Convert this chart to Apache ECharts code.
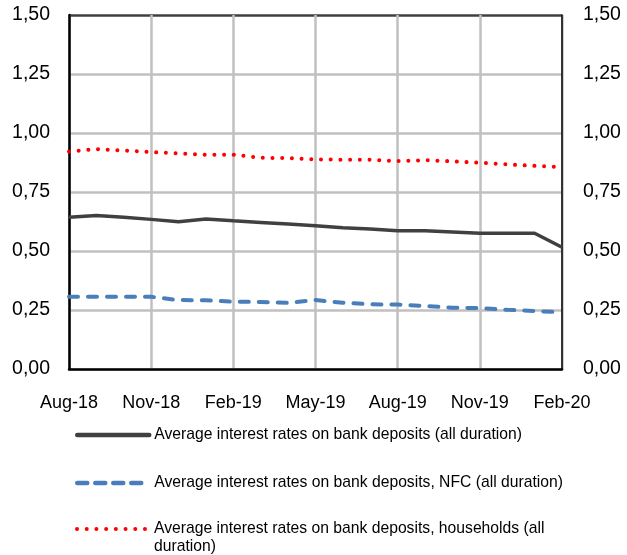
<!DOCTYPE html>
<html>
<head>
<meta charset="utf-8">
<script src="https://cdn.jsdelivr.net/npm/echarts@6/dist/echarts.min.js"></script>
<style>
html,body{margin:0;padding:0;background:#fff;}
#chart{width:627px;height:555px;}
</style>
</head>
<body>
<div id="chart"></div>
<script>
const months = ["Aug-18","Sep-18","Oct-18","Nov-18","Dec-18","Jan-19","Feb-19","Mar-19","Apr-19","May-19","Jun-19","Jul-19","Aug-19","Sep-19","Oct-19","Nov-19","Dec-19","Jan-20","Feb-20"];
const allDeposits = [0.643,0.650,0.643,0.634,0.624,0.636,0.628,0.621,0.614,0.607,0.599,0.593,0.586,0.586,0.581,0.575,0.575,0.575,0.516];
const nfcDeposits = [0.306,0.306,0.306,0.306,0.292,0.291,0.285,0.284,0.280,0.292,0.281,0.274,0.273,0.267,0.260,0.258,0.251,0.246,0.240];
const householdDeposits = [0.921,0.932,0.926,0.919,0.914,0.908,0.908,0.895,0.894,0.888,0.887,0.887,0.881,0.885,0.880,0.874,0.867,0.861,0.856];
const seriesNames = [
  "Average interest rates on bank deposits (all duration)",
  "Average interest rates on bank deposits, NFC (all duration)",
  "Average interest rates on bank deposits, households (all duration)"
];
const yTicks = [0, 0.25, 0.5, 0.75, 1.0, 1.25, 1.5];

const font = "Liberation Sans, Arial, sans-serif";
const fmt = v => v.toFixed(2).replace('.', ',');
const legendText = {fontFamily: font, fontSize: 15.7, color: '#000', lineHeight: 18};
const legendCommon = {
  orient: 'vertical', left: 75, padding: 0,
  itemWidth: 72, itemHeight: 4, itemGap: 30,
  textStyle: legendText,
  itemStyle: {color: 'transparent', borderWidth: 0, opacity: 0},
  selectedMode: false
};

const chart = echarts.init(document.getElementById('chart'), null, {renderer: 'canvas'});
chart.setOption({
  animation: false,
  backgroundColor: '#fff',
  grid: {left: 69, right: 65, top: 15, bottom: 186, containLabel: false},
  xAxis: {
    type: 'category',
    data: months,
    boundaryGap: false,
    axisLine: {show: true, lineStyle: {color: '#000', width: 2.5}},
    axisTick: {show: false},
    axisLabel: {interval: 2, color: '#000', fontFamily: font, fontSize: 18, margin: 25},
    splitLine: {show: true, interval: 2, lineStyle: {color: '#C0C0C0', width: 2.5}}
  },
  yAxis: [
    {
      type: 'value', min: yTicks[0], max: yTicks[yTicks.length-1], interval: 0.25, position: 'left',
      axisLine: {show: true, lineStyle: {color: '#000', width: 2.5}},
      axisTick: {show: false},
      axisLabel: {formatter: fmt, color: '#000', fontFamily: font, fontSize: 19.5, margin: 19},
      splitLine: {show: true, lineStyle: {color: ['#C0C0C0','#C0C0C0','#C0C0C0','#C0C0C0','#C0C0C0','#C0C0C0','#404040'], width: 2.5}}
    },
    {
      type: 'value', min: yTicks[0], max: yTicks[yTicks.length-1], interval: 0.25, position: 'right',
      axisLine: {show: true, lineStyle: {color: '#000', width: 1.5}},
      axisTick: {show: false},
      axisLabel: {formatter: fmt, color: '#000', fontFamily: font, fontSize: 19.5, margin: 21},
      splitLine: {show: false}
    }
  ],
  legend: [
    Object.assign({}, legendCommon, {
      top: 426,
      data: [
        {name: seriesNames[0], lineStyle: {width: 4.5, cap: 'round'}},
        {name: seriesNames[1], lineStyle: {width: 4.5, type: [10, 8], cap: 'round'}}
      ]
    }),
    Object.assign({}, legendCommon, {
      top: 502,
      data: [
        {name: seriesNames[2], lineStyle: {width: 4, type: [0.01, 9.7], cap: 'round'}}
      ],
      formatter: n => '\n' + n.replace(' (all duration)', ' (all\nduration)')
    })
  ],
  series: [
    {
      name: seriesNames[0], type: 'line', data: allDeposits, symbol: 'none',
      lineStyle: {color: '#404040', width: 3.5}, itemStyle: {color: '#404040'}, z: 3
    },
    {
      name: seriesNames[1], type: 'line', data: nfcDeposits, symbol: 'none',
      lineStyle: {color: '#4A7EBB', width: 4, type: [9, 10], cap: 'round'}, itemStyle: {color: '#4A7EBB'}, z: 3
    },
    {
      name: seriesNames[2], type: 'line', data: householdDeposits, symbol: 'none',
      lineStyle: {color: '#FF0000', width: 4, type: [0.01, 9.7], cap: 'round'}, itemStyle: {color: '#FF0000'}, z: 3
    }
  ]
});
</script>
</body>
</html>
